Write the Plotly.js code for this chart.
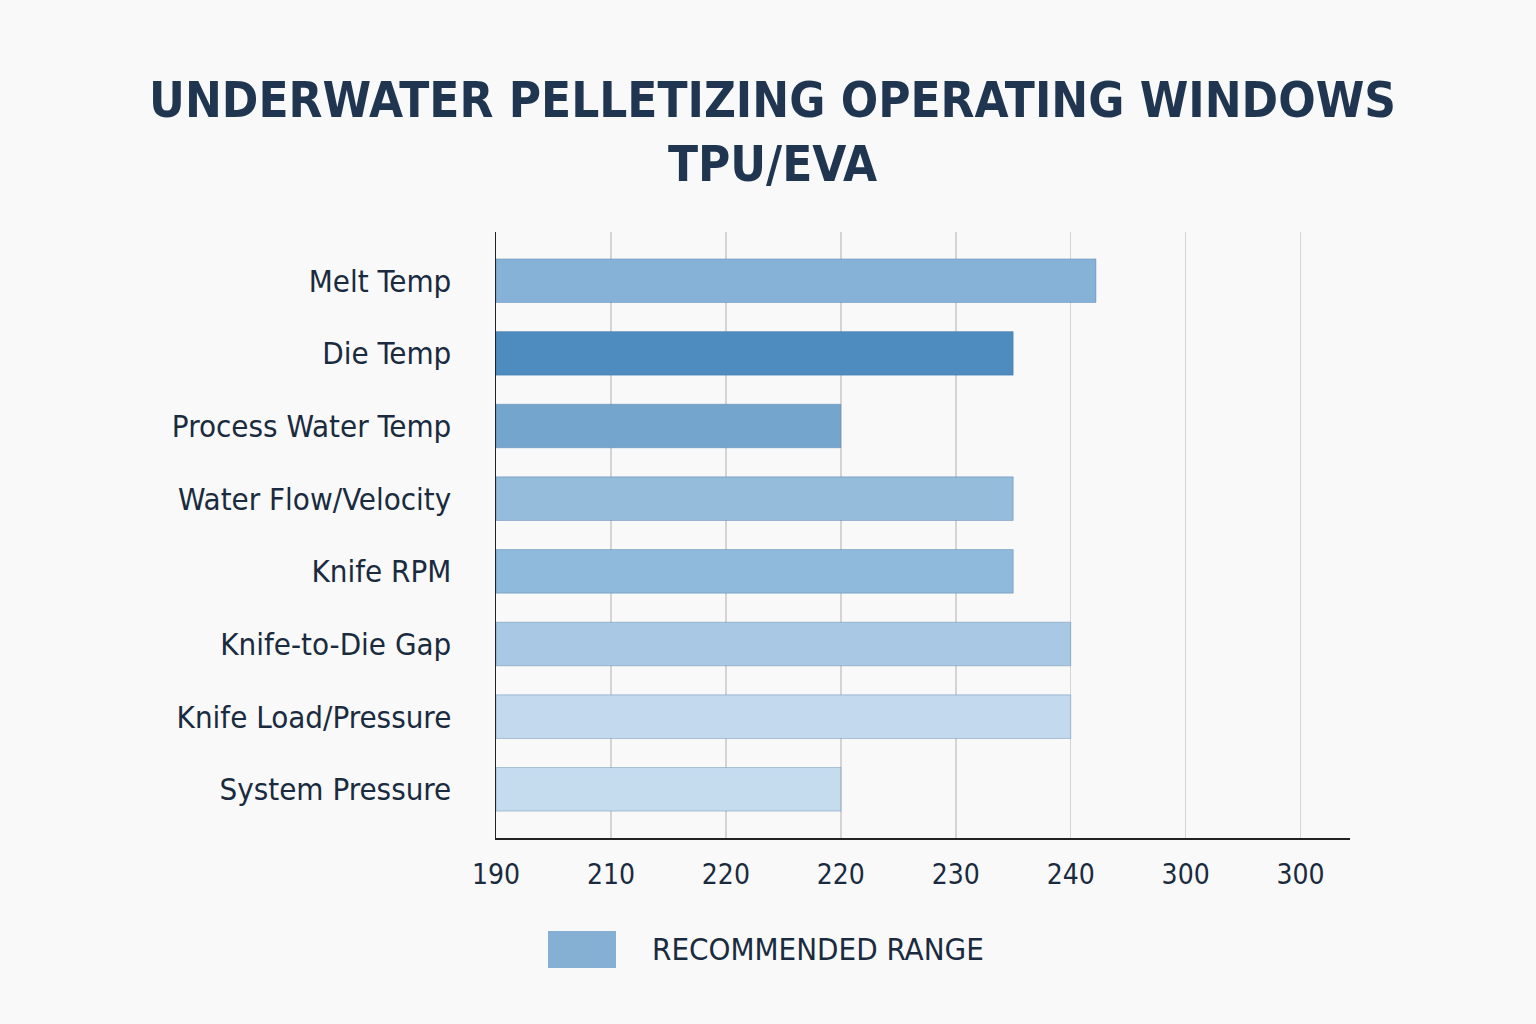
<!DOCTYPE html>
<html>
<head>
<meta charset="utf-8">
<script src="https://cdn.plot.ly/plotly-3.0.1.min.js"></script>
<style>
  html, body { margin: 0; padding: 0; background: #f9f9f9; }
  #chart { width: 1536px; height: 1024px; }
</style>
</head>
<body>
<div id="chart"></div>
<script>
// Data
const parameters = [
  "Melt Temp",
  "Die Temp",
  "Process Water Temp",
  "Water Flow/Velocity",
  "Knife RPM",
  "Knife-to-Die Gap",
  "Knife Load/Pressure",
  "System Pressure"
];
const rangeStart = [190, 190, 190, 190, 190, 190, 190, 190];
const rangeEnd   = [242.2, 235, 220, 235, 235, 240, 240, 220];
const barColors  = ["#86b2d8", "#4e8bbf", "#74a5cc", "#95bcdb", "#8fbadb", "#a8c8e3", "#c3daee", "#c5dbee"];
const tickVals   = [190, 200, 210, 220, 230, 240, 250, 260];
const tickText   = ["190", "210", "220", "220", "230", "240", "300", "300"];
const legendLabel = "RECOMMENDED RANGE";

const textColor = "#1a2b40";
const fontFam = "'DejaVu Sans Condensed', 'Liberation Sans Narrow', 'Noto Sans', sans-serif";

const trace = {
  type: "bar",
  orientation: "h",
  y: parameters,
  base: rangeStart,
  x: rangeEnd.map((e, i) => e - rangeStart[i]),
  width: 0.6,
  marker: {
    color: barColors,
    line: { color: "rgba(60,110,160,0.35)", width: 1 }
  },
  showlegend: false,
  hoverinfo: "y+x"
};

// plot area in pixels: x 496..1350, y 232..838
const L = 496, R = 1350, T = 232, B = 838;
const W = 1536, H = 1024;
const px = v => (v - L) / (R - L);
const py = v => (B - v) / (B - T);

const layout = {
  width: W,
  height: H,
  paper_bgcolor: "#f9f9f9",
  plot_bgcolor: "#f9f9f9",
  margin: { l: L, r: W - R, t: T, b: H - B, pad: 0 },
  title: {
    text: "UNDERWATER PELLETIZING OPERATING WINDOWS<br>TPU/EVA",
    font: { family: fontFam, size: 49, color: "#1f3550", weight: "bold" },
    x: 0.503,
    xanchor: "center",
    y: 1 - 117 / 1024,
    yanchor: "middle"
  },
  xaxis: {
    range: [190, 264.3],
    tickmode: "array",
    tickvals: tickVals,
    ticktext: tickText,
    showgrid: true,
    gridcolor: "#d4d4d4",
    gridwidth: 1.5,
    zeroline: false,
    showline: true,
    linecolor: "#222222",
    linewidth: 1.5,
    ticks: "",
    ticklabelstandoff: 11,
    tickfont: { family: fontFam, size: 28, color: textColor }
  },
  yaxis: {
    type: "category",
    range: [7.67, -0.67],
    showgrid: false,
    zeroline: false,
    showline: true,
    linecolor: "#222222",
    linewidth: 1.5,
    ticks: "",
    ticklabelstandoff: 37,
    tickfont: { family: fontFam, size: 31, color: textColor }
  },
  shapes: [
    {
      type: "rect",
      xref: "paper", yref: "paper",
      x0: px(548), x1: px(616),
      y0: py(968), y1: py(931),
      fillcolor: "#86b0d3",
      line: { width: 0 }
    }
  ],
  annotations: [
    {
      xref: "paper", yref: "paper",
      x: px(650), y: py(949),
      xanchor: "left", yanchor: "middle",
      text: legendLabel,
      showarrow: false,
      font: { family: fontFam, size: 31, color: textColor }
    }
  ]
};

Plotly.newPlot("chart", [trace], layout, { displayModeBar: false, staticPlot: true });
</script>
</body>
</html>
